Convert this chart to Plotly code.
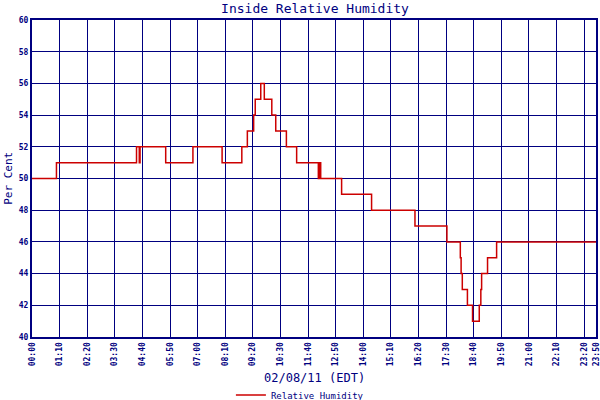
import plotly.graph_objects as go

# Time of each reading (minutes after midnight) and relative humidity (%)
minutes = [0, 62, 265, 272, 274, 339, 408, 482, 532, 546, 562, 566, 580, 589, 608, 618,
           645, 671, 726, 729, 732, 785, 861, 971, 1052, 1086, 1088, 1091, 1104, 1117,
           1134, 1138, 1140, 1155, 1178, 1430]
humidity = [50, 51, 52, 51, 52, 51, 52, 51, 52, 53, 54, 55, 56, 55, 54, 53,
            52, 51, 50, 51, 50, 49, 48, 47, 46, 45, 44, 43, 42, 41,
            42, 43, 44, 45, 46, 46]

tick_minutes = [0, 70, 140, 210, 280, 350, 420, 490, 560, 630, 700, 770, 840, 910,
                980, 1050, 1120, 1190, 1260, 1330, 1400, 1430]
tick_labels = ["00:00", "01:10", "02:20", "03:30", "04:40", "05:50", "07:00", "08:10",
               "09:20", "10:30", "11:40", "12:50", "14:00", "15:10", "16:20", "17:30",
               "18:40", "19:50", "21:00", "22:10", "23:20", "23:50"]
y_ticks = [40, 42, 44, 46, 48, 50, 52, 54, 56, 58, 60]

NAVY = "#000080"
FONT = "DejaVu Sans Mono"

fig = go.Figure()
fig.add_trace(go.Scatter(
    x=minutes, y=humidity, mode="lines", line_shape="hv",
    line=dict(color="#CC0000", width=1.5), name="Relative Humidity"))

fig.update_layout(
    width=600, height=400,
    margin=dict(l=32, r=4, t=20, b=63, autoexpand=False),
    paper_bgcolor="white", plot_bgcolor="white",
    title=dict(text="Inside Relative Humidity", x=0.525, xanchor="center", y=0.99,
               yanchor="top", font=dict(family=FONT, size=13, color=NAVY)),
    showlegend=True,
    legend=dict(orientation="h", x=0.475, xanchor="center", y=-0.183, yanchor="middle",
                font=dict(family=FONT, size=9, color=NAVY), itemwidth=30,
                bgcolor="rgba(0,0,0,0)"),
    xaxis=dict(range=[0, 1430], tickvals=tick_minutes, ticktext=tick_labels,
               tickangle=-90, showgrid=True, gridcolor=NAVY, gridwidth=1,
               showline=True, linecolor=NAVY, linewidth=2, mirror=True,
               ticks="", zeroline=False, automargin=False, ticklabeloverflow="allow",
               tickfont=dict(family=FONT, size=8, color=NAVY, weight="bold")),
    yaxis=dict(range=[40, 60], tickvals=y_ticks, showgrid=True, gridcolor=NAVY,
               gridwidth=1, showline=True, linecolor=NAVY, linewidth=2, mirror=True,
               ticks="", zeroline=False, automargin=False,
               tickfont=dict(family=FONT, size=8, color=NAVY, weight="bold")),
    annotations=[
        dict(text="02/08/11 (EDT)", xref="paper", yref="paper", x=0.5, y=-0.129,
             xanchor="center", yanchor="middle", showarrow=False,
             font=dict(family=FONT, size=12, color=NAVY)),
        dict(text="Per Cent", xref="paper", yref="paper", x=-0.042, y=0.5,
             xanchor="center", yanchor="middle", showarrow=False, textangle=-90,
             font=dict(family=FONT, size=11, color=NAVY)),
    ],
)

fig.write_html("out.html", config={"displayModeBar": False},
               post_script="document.body.style.margin='0';document.body.style.padding='0';")
